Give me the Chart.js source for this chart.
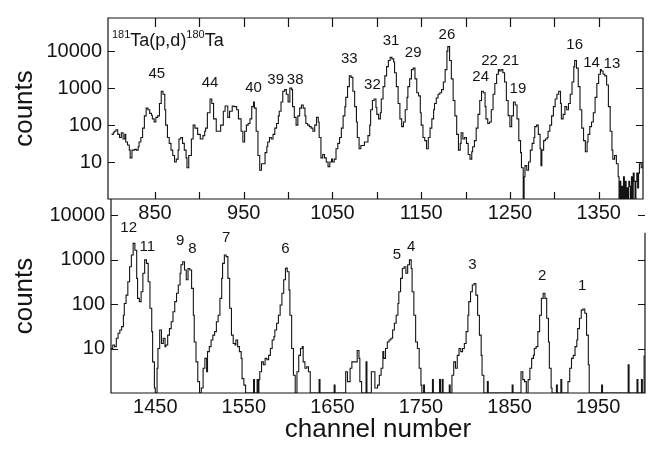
<!DOCTYPE html>
<html>
<head>
<meta charset="utf-8">
<script src="https://cdn.jsdelivr.net/npm/chart.js@4.4.1/dist/chart.umd.min.js"></script>
<style>
    html, body { margin: 0; padding: 0; background: #fff; }
    #wrap { position: relative; width: 657px; height: 449px; }
    #wrap canvas { position: absolute; left: 0; top: 0; }
</style>
</head>
<body>
<div id="wrap">
    <canvas id="graficoBaixo" width="657" height="449"></canvas>
    <canvas id="graficoCima" width="657" height="449"></canvas>
</div>
<script>
// espectro de cima (canais 797-1400)
const topChannels = [
    801, 803, 804, 806, 808, 810, 812, 814, 816, 817,
    819, 821, 822, 824, 827, 829, 831, 832, 834, 836,
    838, 840, 842, 844, 846, 847, 849, 851, 853, 855,
    857, 859, 861, 862, 864, 866, 868, 870, 872, 874,
    876, 877, 879, 881, 883, 885, 886, 888, 891, 893,
    895, 898, 901, 904, 906, 907, 909, 912, 914, 916,
    919, 922, 924, 927, 929, 932, 934, 937, 939, 942,
    944, 947, 949, 951, 953, 955, 957, 959, 961, 962,
    964, 966, 968, 970, 972, 974, 976, 977, 979, 981,
    983, 985, 987, 989, 990, 992, 994, 996, 998, 1000,
    1002, 1004, 1005, 1007, 1009, 1011, 1013, 1015, 1017, 1019,
    1020, 1022, 1024, 1026, 1028, 1030, 1032, 1034, 1035, 1037,
    1039, 1041, 1043, 1045, 1047, 1049, 1050, 1052, 1054, 1056,
    1058, 1060, 1062, 1064, 1065, 1067, 1069, 1071, 1073, 1075,
    1077, 1078, 1080, 1082, 1084, 1086, 1088, 1090, 1092, 1093,
    1095, 1097, 1099, 1100, 1102, 1104, 1105, 1107, 1109, 1111,
    1113, 1115, 1117, 1119, 1120, 1122, 1124, 1126, 1128, 1130,
    1132, 1134, 1135, 1137, 1139, 1141, 1143, 1145, 1147, 1149,
    1150, 1152, 1154, 1156, 1158, 1160, 1162, 1164, 1165, 1167,
    1169, 1171, 1173, 1175, 1177, 1179, 1180, 1182, 1184, 1186,
    1188, 1190, 1192, 1194, 1195, 1197, 1199, 1201, 1203, 1205,
    1207, 1208, 1210, 1212, 1214, 1216, 1218, 1220, 1222, 1223,
    1225, 1227, 1229, 1231, 1233, 1235, 1237, 1238, 1240, 1242,
    1244, 1246, 1248, 1250, 1252, 1254, 1256, 1258, 1260, 1262,
    1263, 1265, 1266, 1267, 1269, 1271, 1273, 1275, 1277, 1278,
    1280, 1282, 1284, 1285, 1286, 1288, 1290, 1292, 1293, 1295,
    1297, 1299, 1301, 1303, 1305, 1307, 1308, 1310, 1312, 1314,
    1316, 1318, 1320, 1322, 1323, 1325, 1327, 1329, 1331, 1333,
    1335, 1337, 1338, 1340, 1342, 1344, 1346, 1348, 1350, 1352,
    1353, 1355, 1357, 1359, 1361, 1363, 1365, 1366, 1368, 1370,
    1372, 1373, 1374, 1375, 1376, 1377, 1378, 1379, 1380, 1381,
    1382, 1383, 1384, 1385, 1386, 1387, 1388, 1389, 1390, 1391,
    1392, 1393, 1394, 1395, 1396, 1398, 1400
];
const topCounts = [
    56, 62, 68, 75, 56, 46, 62, 42, 56, 35,
    29, 21, 13, 21, 22, 21, 26, 35, 46, 83,
    178, 287, 261, 207, 185, 147, 121, 162, 178, 383,
    825, 681, 261, 100, 46, 32, 21, 15, 10, 12,
    21, 42, 46, 32, 21, 13, 7, 15, 42, 100,
    83, 56, 42, 52, 68, 83, 215, 510, 383, 147,
    68, 68, 100, 237, 329, 162, 237, 329, 316, 261,
    147, 68, 35, 68, 100, 110, 147, 316, 422, 287,
    68, 15, 6, 9, 9, 18, 26, 35, 46, 42,
    56, 83, 110, 178, 237, 422, 825, 909, 681, 422,
    1000, 909, 316, 162, 100, 178, 287, 348, 287, 178,
    110, 100, 91, 83, 68, 100, 162, 121, 46, 13,
    16, 13, 10, 7.5, 10, 12, 10, 12, 23, 32,
    46, 83, 178, 316, 562, 1100, 2150, 1950, 825, 316,
    121, 46, 23, 28, 28, 35, 35, 52, 100, 261,
    464, 510, 300, 195, 147, 215, 510, 1100, 2150, 3830,
    5600, 6800, 6200, 5100, 2600, 1100, 383, 147, 91, 121,
    261, 562, 1100, 1780, 3160, 3480, 1780, 750, 619, 215,
    100, 46, 38, 23, 46, 83, 147, 261, 383, 540,
    681, 750, 909, 1470, 3160, 10000, 13300, 5600, 1780, 464,
    178, 56, 21, 32, 62, 42, 46, 32, 16, 12,
    19, 26, 38, 83, 195, 464, 825, 750, 316, 147,
    110, 121, 261, 681, 1330, 2370, 3160, 2900, 3160, 2600,
    1470, 464, 180, 91, 178, 422, 348, 147, 38, 18,
    7, 1, 4, 8, 6, 10, 21, 32, 46, 91,
    100, 56, 23, 8, 21, 38, 42, 46, 68, 100,
    178, 316, 510, 681, 825, 383, 147, 195, 316, 261,
    383, 681, 1470, 3830, 5600, 3480, 1100, 261, 83, 38,
    19, 35, 56, 91, 121, 215, 562, 1330, 2370, 3160,
    2900, 2370, 2150, 1220, 316, 68, 21, 12, 15, 9,
    4, 1, 3, 1, 2.2, 1, 4, 1, 3, 1,
    2, 1, 3, 2.2, 1, 4, 1, 5, 3, 1,
    3, 5, 2, 5, 9, 7, 10
];

// espectro de baixo (canais 1400-2003)
const bottomChannels = [
    1400, 1402, 1404, 1406, 1408, 1410, 1412, 1414, 1415, 1417,
    1419, 1421, 1423, 1425, 1427, 1429, 1430, 1432, 1434, 1436,
    1438, 1440, 1442, 1444, 1446, 1447, 1449, 1450, 1452, 1453,
    1455, 1457, 1459, 1461, 1462, 1464, 1466, 1468, 1470, 1472,
    1474, 1476, 1478, 1479, 1481, 1483, 1485, 1487, 1489, 1491,
    1493, 1494, 1496, 1498, 1500, 1502, 1504, 1506, 1508, 1509,
    1511, 1513, 1515, 1517, 1519, 1521, 1523, 1525, 1526, 1528,
    1530, 1532, 1534, 1536, 1538, 1540, 1541, 1543, 1545, 1547,
    1548, 1550, 1552, 1560, 1561, 1562, 1565, 1566, 1567, 1568,
    1570, 1572, 1574, 1576, 1578, 1580, 1582, 1584, 1585, 1587,
    1589, 1591, 1593, 1595, 1597, 1598, 1599, 1601, 1602, 1604,
    1606, 1608, 1610, 1612, 1614, 1616, 1617, 1619, 1621, 1623,
    1625, 1634, 1635, 1636, 1651, 1652, 1653, 1664, 1665, 1667,
    1670, 1672, 1674, 1676, 1678, 1680, 1681, 1683, 1687, 1688,
    1689, 1694, 1696, 1698, 1701, 1703, 1705, 1707, 1708, 1710,
    1712, 1714, 1716, 1718, 1720, 1722, 1724, 1725, 1727, 1729,
    1731, 1733, 1735, 1737, 1739, 1740, 1742, 1744, 1746, 1748,
    1750, 1751, 1753, 1754, 1763, 1764, 1771, 1772, 1774, 1775,
    1782, 1783, 1785, 1787, 1789, 1791, 1793, 1795, 1797, 1799,
    1801, 1803, 1804, 1806, 1808, 1810, 1812, 1814, 1816, 1818,
    1819, 1821, 1825, 1826, 1853, 1854, 1863, 1865, 1867, 1869,
    1871, 1873, 1875, 1877, 1878, 1880, 1882, 1884, 1886, 1888,
    1890, 1892, 1894, 1895, 1897, 1898, 1903, 1904, 1908, 1909,
    1916, 1918, 1920, 1922, 1924, 1926, 1927, 1929, 1931, 1933,
    1935, 1937, 1939, 1940, 1954, 1955, 1984, 1985, 1994, 1995,
    1999, 2000, 2002
];
const bottomCounts = [
    10, 12, 11, 17, 22, 26, 31, 56, 103, 158,
    316, 690, 1260, 2300, 1620, 377, 134, 113, 189, 490,
    980, 820, 316, 80, 24, 5, 1.3, 1, 3.6, 10,
    26, 13, 17, 11, 12, 20, 28, 40, 67, 113,
    174, 267, 490, 760, 890, 580, 350, 630, 580, 225,
    56, 14, 5, 1.8, 1, 1.3, 3.6, 6, 3, 8.5,
    11, 15.5, 20, 24, 40, 56, 134, 377, 820, 1260,
    1160, 377, 80, 20, 13, 12, 15.5, 11, 8.5, 6,
    2.1, 1.5, 1, 1, 2, 1, 2, 1, 2, 3,
    5, 4.3, 6, 5.6, 7, 10, 15.5, 18.5, 26, 37,
    56, 95, 174, 350, 630, 640, 530, 205, 56, 10,
    2.5, 1, 3, 7, 10, 11, 5, 3.6, 3.9, 3,
    1, 1, 2, 1, 1, 1.5, 1, 1, 3, 1.8,
    3.6, 5, 5, 5, 9, 6, 1.8, 1, 1, 5,
    1, 3, 3, 1.3, 1.5, 2.5, 3.6, 8.5, 6, 10,
    14, 15.5, 17, 26, 37, 56, 103, 189, 377, 630,
    690, 490, 760, 980, 630, 189, 56, 14, 10, 3.6,
    1.5, 1, 1.5, 1, 2, 1, 2, 1, 2, 1,
    1.5, 1, 2.5, 5, 3.6, 7, 10, 8.5, 10, 13,
    24, 56, 113, 189, 267, 290, 158, 56, 20, 7,
    2.5, 1, 1.8, 1, 1.5, 1, 3, 2, 1.8, 1,
    2, 3.6, 6, 7, 10, 11, 24, 56, 134, 174,
    134, 48, 14, 3.6, 1.3, 1, 1.5, 1, 2, 1,
    1.8, 3.6, 6, 7, 11, 15.5, 28, 48, 73, 77,
    62, 20, 4.3, 1, 1.5, 1, 4.3, 1, 2, 1,
    2, 1, 7
];

// rotulos dos picos
const topPeakNames = ['45', '44', '40', '39', '38', '33', '32', '31', '29', '26', '24', '22', '21', '19', '16', '14', '13'];
const topPeakChannels = [852, 912, 961, 986, 1008, 1069, 1095, 1116, 1141, 1179, 1217, 1227, 1251, 1259, 1323, 1342, 1365];
const topPeakLabelCounts = [2370, 1410, 1000, 1700, 1700, 6300, 1200, 18600, 9100, 26900, 2000, 5400, 5400, 950, 14800, 4800, 4500];

const bottomPeakNames = ['12', '11', '9', '8', '7', '6', '5', '4', '3', '2', '1'];
const bottomPeakChannels = [1420, 1441, 1478, 1492, 1530, 1597, 1723, 1739, 1808, 1887, 1932];
const bottomPeakLabelCounts = [5100, 1900, 2600, 1740, 3000, 1740, 1260, 1900, 760, 430, 250];

// eixos
const yTickValues = [10, 100, 1000, 10000];
const topTickChannels = [850, 900, 950, 1000, 1050, 1100, 1150, 1200, 1250, 1300, 1350];
const topTickLabels = ['850', '950', '1050', '1150', '1250', '1350'];
const bottomTickChannels = [1450, 1550, 1650, 1750, 1850, 1950];

const FONTE = "'Liberation Sans', Arial, sans-serif";
const COR = '#141414';

function montarSerie(canais, contagens) {
    return canais.map(function (c, i) { return { x: c, y: contagens[i] }; });
}

// moldura e tracinhos para dentro
const tracosInternos = {
    id: 'tracosInternos',
    afterDatasetsDraw(chart, args, opts) {
        const { ctx, chartArea: a, scales } = chart;
        ctx.save();
        ctx.strokeStyle = COR;
        ctx.lineWidth = 1.2;
        ctx.beginPath();
        if (opts.moldura === 'cheia') {
            ctx.rect(a.left, a.top, a.right - a.left, a.bottom - a.top);
        } else {
            const yDireita = scales.y.getPixelForValue(opts.direitaDesde);
            ctx.moveTo(a.left, a.top);
            ctx.lineTo(a.left, a.bottom);
            ctx.lineTo(a.right, a.bottom);
            ctx.lineTo(a.right, yDireita);
        }
        (opts.yTicks || []).forEach(function (v) {
            const py = Math.round(scales.y.getPixelForValue(v)) + 0.5;
            ctx.moveTo(a.left, py); ctx.lineTo(a.left + 7, py);
            ctx.moveTo(a.right, py); ctx.lineTo(a.right - 7, py);
        });
        (opts.xTicks || []).forEach(function (v) {
            const px = Math.round(scales.x.getPixelForValue(v)) + 0.5;
            ctx.moveTo(px, a.top); ctx.lineTo(px, a.top + 9);
            ctx.moveTo(px, a.bottom); ctx.lineTo(px, a.bottom - 7);
        });
        ctx.stroke();
        ctx.restore();
    }
};

// numeros dos picos
const rotulosPicos = {
    id: 'rotulosPicos',
    afterDatasetsDraw(chart, args, opts) {
        const { ctx, scales } = chart;
        ctx.save();
        ctx.fillStyle = COR;
        ctx.font = opts.tamanho + 'px ' + FONTE;
        ctx.textAlign = 'center';
        ctx.textBaseline = 'middle';
        opts.nomes.forEach(function (nome, i) {
            ctx.fillText(nome, scales.x.getPixelForValue(opts.canais[i]), scales.y.getPixelForValue(opts.contagens[i]));
        });
        ctx.restore();
    }
};

// 181Ta(p,d)180Ta
const reacao = {
    id: 'reacao',
    afterDraw(chart, args, opts) {
        if (!opts.mostrar) return;
        const { ctx, chartArea: a } = chart;
        ctx.save();
        ctx.fillStyle = COR;
        ctx.textBaseline = 'alphabetic';
        let x = a.left + 4;
        const base = a.top + 28;
        const partes = [['181', 11, -8], ['Ta(p,d)', 18, 0], ['180', 11, -8], ['Ta', 18, 0]];
        partes.forEach(function (p) {
            ctx.font = p[1] + 'px ' + FONTE;
            ctx.fillText(p[0], x, base + p[2]);
            x += ctx.measureText(p[0]).width;
        });
        ctx.restore();
    }
};

function eixoY(largura, tituloPad) {
    return {
        type: 'logarithmic',
        min: 1,
        afterFit: function (s) { s.width = largura; },
        afterBuildTicks: function (s) { s.ticks = yTickValues.map(function (v) { return { value: v }; }); },
        grid: { display: false, drawTicks: false },
        border: { display: false },
        ticks: {
            padding: 6,
            color: COR,
            font: { family: FONTE, size: 20 },
            callback: function (v) { return String(v); }
        },
        title: {
            display: true,
            text: 'counts',
            color: COR,
            font: { family: FONTE, size: 26 },
            padding: { top: tituloPad, bottom: 0 }
        }
    };
}

function linha(canais, contagens) {
    return {
        data: montarSerie(canais, contagens),
        borderColor: COR,
        borderWidth: 1.1,
        pointRadius: 0,
        stepped: 'before',
        tension: 0,
        fill: false
    };
}

const yCima = eixoY(108, 9);
yCima.max = 79000;

new Chart(document.getElementById('graficoCima'), {
    type: 'line',
    data: { datasets: [linha(topChannels, topCounts)] },
    options: {
        responsive: false,
        animation: false,
        layout: { padding: { left: 0, right: 14, top: 4, bottom: 210 } },
        plugins: {
            legend: { display: false },
            tooltip: { enabled: false },
            tracosInternos: { moldura: 'cheia', yTicks: yTickValues, xTicks: topTickChannels },
            rotulosPicos: { nomes: topPeakNames, canais: topPeakChannels, contagens: topPeakLabelCounts, tamanho: 15 },
            reacao: { mostrar: true }
        },
        scales: {
            x: {
                type: 'linear',
                min: 797,
                max: 1400,
                afterFit: function (s) { s.height = 40; },
                afterBuildTicks: function (s) { s.ticks = topTickChannels.map(function (v) { return { value: v }; }); },
                grid: { display: false, drawTicks: false },
                border: { display: false },
                ticks: {
                    autoSkip: false,
                    maxRotation: 0,
                    padding: 2,
                    color: COR,
                    font: { family: FONTE, size: 20 },
                    callback: function (v) { return topTickLabels.includes(String(v)) ? String(v) : ''; }
                }
            },
            y: yCima
        }
    },
    plugins: [tracosInternos, rotulosPicos, reacao]
});

const yBaixo = eixoY(111, 9);
yBaixo.max = 22900;

new Chart(document.getElementById('graficoBaixo'), {
    type: 'line',
    data: { datasets: [linha(bottomChannels, bottomCounts)] },
    options: {
        responsive: false,
        animation: false,
        layout: { padding: { left: 0, right: 12, top: 199, bottom: 0 } },
        plugins: {
            legend: { display: false },
            tooltip: { enabled: false },
            tracosInternos: { moldura: 'aberta', yTicks: yTickValues, direitaDesde: 4000 },
            rotulosPicos: { nomes: bottomPeakNames, canais: bottomPeakChannels, contagens: bottomPeakLabelCounts, tamanho: 15 },
            reacao: { mostrar: false }
        },
        scales: {
            x: {
                type: 'linear',
                min: 1400,
                max: 2003,
                afterFit: function (s) { s.height = 56; },
                afterBuildTicks: function (s) { s.ticks = bottomTickChannels.map(function (v) { return { value: v }; }); },
                grid: { display: false, drawTicks: false },
                border: { display: false },
                ticks: {
                    autoSkip: false,
                    maxRotation: 0,
                    padding: 2,
                    color: COR,
                    font: { family: FONTE, size: 20 },
                    callback: function (v) { return String(v); }
                },
                title: {
                    display: true,
                    text: 'channel number',
                    color: COR,
                    font: { family: FONTE, size: 26 },
                    padding: { top: 0, bottom: 4 }
                }
            },
            y: yBaixo
        }
    },
    plugins: [tracosInternos, rotulosPicos, reacao]
});
</script>
</body>
</html>
